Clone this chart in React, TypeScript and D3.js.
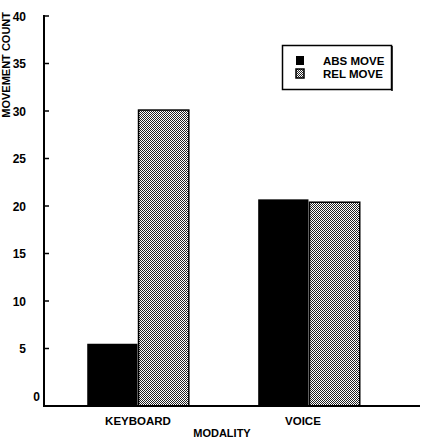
import { useEffect, useRef } from "react"
import * as d3 from "d3"

const categories = ["KEYBOARD", "VOICE"]
const seriesNames = ["ABS MOVE", "REL MOVE"]
const absMove = [5.5, 20.7]
const relMove = [30.1, 20.4]
const yTicks = [0, 5, 10, 15, 20, 25, 30, 35, 40]

const W = 422
const H = 438

export default function App() {
  const svgRef = useRef<SVGSVGElement | null>(null)

  useEffect(() => {
    const svg = d3.select(svgRef.current)
    svg.selectAll("*").remove()

    const font = "'Liberation Sans', Arial, sans-serif"
    const left = 44
    const right = 420
    const axisY = 406

    const defs = svg.append("defs")
    const pat = defs
      .append("pattern")
      .attr("id", "checker")
      .attr("width", 2)
      .attr("height", 2)
      .attr("patternUnits", "userSpaceOnUse")
    pat.append("rect").attr("width", 2).attr("height", 2).attr("fill", "#fff")
    pat.append("rect").attr("width", 1).attr("height", 1).attr("fill", "#222")
    pat.append("rect").attr("x", 1).attr("y", 1).attr("width", 1).attr("height", 1).attr("fill", "#222")

    const y = d3.scaleLinear().domain([0, 40]).range([396, 16])

    const x0 = d3.scaleBand<string>().domain(categories).range([left, 403]).paddingInner(0.4).paddingOuter(0.25)
    const x1 = d3.scaleBand<string>().domain(seriesNames).range([0, x0.bandwidth()])

    const rows = categories.map((c, i) => ({ cat: c, vals: [absMove[i], relMove[i]] }))

    // bars
    const g = svg.append("g")
    rows.forEach((r) => {
      r.vals.forEach((v, j) => {
        const bx = (x0(r.cat) ?? 0) + (x1(seriesNames[j]) ?? 0)
        g.append("rect")
          .attr("x", bx + 0.5)
          .attr("y", y(v))
          .attr("width", x1.bandwidth() - 1)
          .attr("height", axisY - y(v))
          .attr("fill", j === 0 ? "#000" : "url(#checker)")
          .attr("stroke", "#000")
          .attr("stroke-width", j === 0 ? 0 : 1.5)
      })
    })

    // y axis
    svg.append("line")
      .attr("x1", left).attr("x2", left)
      .attr("y1", 15).attr("y2", axisY + 1)
      .attr("stroke", "#000").attr("stroke-width", 2)

    svg.selectAll(".ytick")
      .data(yTicks.filter((t) => t > 0))
      .enter()
      .append("line")
      .attr("x1", left).attr("x2", left + 5)
      .attr("y1", (d) => y(d)).attr("y2", (d) => y(d))
      .attr("stroke", "#000").attr("stroke-width", 1.5)

    svg.selectAll(".ylab")
      .data(yTicks)
      .enter()
      .append("text")
      .attr("x", (d) => (d === 0 ? 40 : 26))
      .attr("y", (d) => y(d) + 4.5)
      .attr("text-anchor", "end")
      .attr("font-family", font)
      .attr("font-weight", "bold")
      .attr("font-size", 12)
      .text((d) => d)

    // x axis
    svg.append("line")
      .attr("x1", left - 1).attr("x2", right)
      .attr("y1", axisY).attr("y2", axisY)
      .attr("stroke", "#000").attr("stroke-width", 2)

    svg.selectAll(".xlab")
      .data(categories)
      .enter()
      .append("text")
      .attr("x", (d) => (x0(d) ?? 0) + x0.bandwidth() / 2 - (d === "VOICE" ? 6 : 0))
      .attr("y", 425)
      .attr("text-anchor", "middle")
      .attr("font-family", font)
      .attr("font-weight", "bold")
      .attr("font-size", 11.5)
      .text((d) => d)

    svg.append("text")
      .attr("x", 222).attr("y", 437)
      .attr("text-anchor", "middle")
      .attr("font-family", font)
      .attr("font-weight", "bold")
      .attr("font-size", 11)
      .text("MODALITY")

    svg.append("text")
      .attr("transform", "translate(9.5,12) rotate(-90)")
      .attr("text-anchor", "end")
      .attr("font-family", font)
      .attr("font-weight", "bold")
      .attr("font-size", 11)
      .text("MOVEMENT COUNT")

    // legend
    const lg = svg.append("g")
    lg.append("rect")
      .attr("x", 282.5).attr("y", 45.5)
      .attr("width", 109).attr("height", 44)
      .attr("fill", "#fff").attr("stroke", "#000").attr("stroke-width", 1.5)
    lg.append("line")
      .attr("x1", 392).attr("x2", 392).attr("y1", 46).attr("y2", 91)
      .attr("stroke", "#000").attr("stroke-width", 1.5)
    seriesNames.forEach((s, i) => {
      const ly = 56 + i * 13
      lg.append("rect")
        .attr("x", 296).attr("y", ly)
        .attr("width", 8).attr("height", 9)
        .attr("fill", i === 0 ? "#000" : "url(#checker)")
        .attr("stroke", "#000").attr("stroke-width", i === 0 ? 0 : 1.5)
      lg.append("text")
        .attr("x", 323).attr("y", ly + 8.5)
        .attr("font-family", font)
        .attr("font-weight", "bold")
        .attr("font-size", 11.5)
        .text(s)
    })
  }, [])

  return (
    <svg
      ref={svgRef}
      width={W}
      height={H}
      style={{ position: "absolute", left: 0, top: 0, background: "#fff" }}
    />
  )
}
